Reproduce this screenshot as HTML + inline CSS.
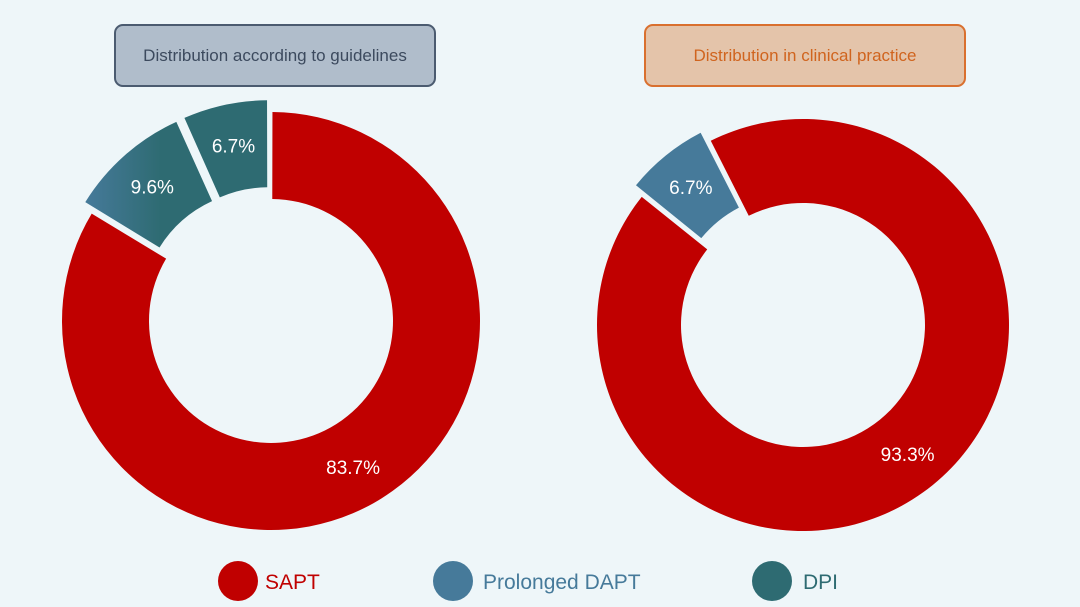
<!DOCTYPE html>
<html><head><meta charset="utf-8"><style>
html,body{margin:0;padding:0;background:#eef6f9;}
svg{display:block;font-family:"Liberation Sans",sans-serif;}
</style></head><body>
<svg id="chart" width="1080" height="607" viewBox="0 0 1080 607">
<defs>
<linearGradient id="blueGrad" x1="0" x2="1" y1="0" y2="0"><stop offset="0" stop-color="#467a9a"/><stop offset="0.6" stop-color="#2e6b72"/></linearGradient>
</defs>
<rect width="1080" height="607" fill="#eef6f9"/>
<g>
<rect x="115" y="25" width="320" height="61" rx="8" fill="#b0bdcb" stroke="#4b5b70" stroke-width="2"/>
<text x="275" y="61" text-anchor="middle" font-size="17" fill="#3c4a5e">Distribution according to guidelines</text>
</g>
<g>
<rect x="645" y="25" width="320" height="61" rx="8" fill="#e4c4aa" stroke="#d9702f" stroke-width="2"/>
<text x="805" y="61" text-anchor="middle" font-size="17" fill="#d0641e">Distribution in clinical practice</text>
</g>
<g id="left"></g>
<g id="right"></g>
<g>
<g><circle cx="238" cy="581" r="20" fill="#c00000"/><text x="265" y="589" font-size="21" fill="#c00000">SAPT</text></g>
<g><circle cx="453" cy="581" r="20" fill="#467a9a"/><text x="483" y="589" font-size="21" fill="#467a9a">Prolonged DAPT</text></g>
<g><circle cx="772" cy="581" r="20" fill="#2e6b72"/><text x="803" y="589" font-size="21" fill="#2e6b72">DPI</text></g>
</g>
</svg>
<script>
const categories = ["SAPT", "Prolonged DAPT", "DPI"];
const guidelineValues = [83.7, 9.6, 6.7];
const practiceValues = [93.3, 6.7, 0];
const guidelineLabels = ["83.7%", "9.6%", "6.7%"];
const practiceLabels = ["93.3%", "6.7%", ""];

const NS = "http://www.w3.org/2000/svg";
const colors = ["#c00000", "url(#blueGrad)", "#2e6b72"];
function pt(cx, cy, r, a) { const t = a * Math.PI / 180; return [cx + r * Math.sin(t), cy - r * Math.cos(t)]; }
function drawDonut(gid, values, labels, cx, cy, R, ri, start, explode, fills) {
  const g = document.getElementById(gid);
  const total = values.reduce((s, v) => s + v, 0);
  let a = start;
  values.forEach((v, i) => {
    if (v <= 0) return;
    const sweep = v / total * 360;
    const a0 = a, a1 = a + sweep; a = a1;
    const mid = (a0 + a1) / 2;
    const off = explode[i] ? 12 : 0;
    const [ox, oy] = pt(0, 0, off, mid);
    const x = cx + ox, y = cy + oy;
    const p1 = pt(x, y, R, a0 + 0.4), p2 = pt(x, y, R, a1 - 0.4), p3 = pt(x, y, ri, a1 - 0.6), p4 = pt(x, y, ri, a0 + 0.6);
    const large = sweep > 180 ? 1 : 0;
    const path = document.createElementNS(NS, "path");
    path.setAttribute("d", `M${p1[0]},${p1[1]} A${R},${R} 0 ${large} 1 ${p2[0]},${p2[1]} L${p3[0]},${p3[1]} A${ri},${ri} 0 ${large} 0 ${p4[0]},${p4[1]} Z`);
    path.setAttribute("fill", fills[i]);
    
    
    g.appendChild(path);
    const lp = pt(x, y, (R + ri) / 2 + 2, mid);
    const t = document.createElementNS(NS, "text");
    t.setAttribute("x", lp[0]); t.setAttribute("y", lp[1] + 7);
    t.setAttribute("text-anchor", "middle"); t.setAttribute("font-size", "19");
    t.setAttribute("fill", "#ffffff");
    t.textContent = labels[i];
    
    
    g.appendChild(t);
  });
}
drawDonut("left", guidelineValues, guidelineLabels, 271, 321, 209, 122, 0, [false, true, true], colors);
drawDonut("right", practiceValues, practiceLabels, 803, 325, 206, 122, -27, [false, true, false], ["#c00000", "#467a9a", "#2e6b72"]);
</script>
</body></html>
